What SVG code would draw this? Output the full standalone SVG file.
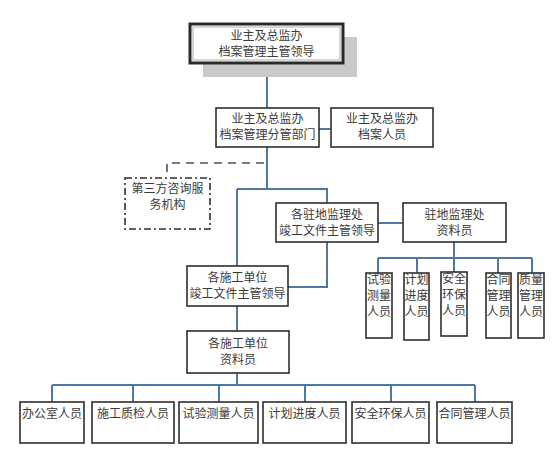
<svg xmlns="http://www.w3.org/2000/svg" width="560" height="462" viewBox="0 0 560 462">
<style>
.bx{fill:#fff;stroke:#2e2e2e;stroke-width:1.6}
.t{font-family:"Noto Sans CJK SC","Noto Sans CJK JP",sans-serif;font-size:12px;fill:#3a3a3a;text-anchor:middle}
.c{fill:none;stroke:#4f78a3;stroke-width:2}
.d{fill:none;stroke:#44536a;stroke-width:1.6;stroke-dasharray:8 6}
.dd{fill:none;stroke:#2e2e2e;stroke-width:1.6;stroke-dasharray:7 3 2 3}
</style>
<rect width="560" height="462" fill="#fff"/>
<g id="connectors">
<path class="c" d="M267 63V108M319 129H331M267 147V189M237 189H327V203M237 189V266M378 223H403M327 242V287H288M237 306V331M237 373V385M52 385H475M52 385V402M133 385V402M219 385V402M305 385V402M391 385V402M475 385V402M454 242V258M378 258H532M378 258V273M417 258V273M454 258V272M498 258V273M532 258V273"/>
<path class="d" d="M264 163H167V178"/>
</g>
<g id="n-top">
<rect x="203" y="37" width="154" height="40" fill="#c9c9c9"/>
<rect x="190" y="24" width="153" height="39" fill="#fff" stroke="#2a2a2a" stroke-width="3"/>
<rect x="193" y="27" width="147" height="33" fill="none" stroke="#999" stroke-width="0.8"/>
<text class="t" x="266.5" y="40">业主及总监办</text>
<text class="t" x="266.5" y="56">档案管理主管领导</text>
</g>
<g id="n-dept">
<rect class="bx" x="216" y="108" width="103" height="39"/>
<text class="t" x="267.5" y="123">业主及总监办</text>
<text class="t" x="267.5" y="139">档案管理分管部门</text>
</g>
<g id="n-archive">
<rect class="bx" x="331" y="108" width="102" height="39"/>
<text class="t" x="382" y="123">业主及总监办</text>
<text class="t" x="382" y="139">档案人员</text>
</g>
<g id="n-third">
<rect class="dd" x="125" y="178" width="85" height="51"/>
<text class="t" x="167.5" y="193">第三方咨询服</text>
<text class="t" x="167.5" y="209">务机构</text>
</g>
<g id="n-site-lead">
<rect class="bx" x="276" y="203" width="102" height="39"/>
<text class="t" x="327" y="219">各驻地监理处</text>
<text class="t" x="327" y="235">竣工文件主管领导</text>
</g>
<g id="n-site-clerk">
<rect class="bx" x="403" y="203" width="103" height="39"/>
<text class="t" x="454.5" y="219">驻地监理处</text>
<text class="t" x="454.5" y="235">资料员</text>
</g>
<g id="n-con-lead">
<rect class="bx" x="187" y="266" width="101" height="40"/>
<text class="t" x="237.5" y="282">各施工单位</text>
<text class="t" x="237.5" y="298">竣工文件主管领导</text>
</g>
<g id="n-con-clerk">
<rect class="bx" x="187" y="331" width="102" height="42"/>
<text class="t" x="238" y="348">各施工单位</text>
<text class="t" x="238" y="364">资料员</text>
</g>
<g id="n-s1"><rect class="bx" x="366" y="273" width="26" height="65"/><text class="t" x="379" y="284">试验</text><text class="t" x="379" y="300">测量</text><text class="t" x="379" y="316">人员</text></g>
<g id="n-s2"><rect class="bx" x="404" y="273" width="25" height="67"/><text class="t" x="416.5" y="284">计划</text><text class="t" x="416.5" y="300">进度</text><text class="t" x="416.5" y="316">人员</text></g>
<g id="n-s3"><rect class="bx" x="441" y="272" width="26" height="64"/><text class="t" x="454" y="283">安全</text><text class="t" x="454" y="299">环保</text><text class="t" x="454" y="315">人员</text></g>
<g id="n-s4"><rect class="bx" x="486" y="273" width="25" height="65"/><text class="t" x="498.5" y="284">合同</text><text class="t" x="498.5" y="300">管理</text><text class="t" x="498.5" y="316">人员</text></g>
<g id="n-s5"><rect class="bx" x="518" y="273" width="26" height="65"/><text class="t" x="531" y="284">质量</text><text class="t" x="531" y="300">管理</text><text class="t" x="531" y="316">人员</text></g>
<g id="n-b1"><rect class="bx" x="20" y="402" width="64" height="41"/><text class="t" x="52" y="418">办公室人员</text></g>
<g id="n-b2"><rect class="bx" x="92" y="402" width="82" height="41"/><text class="t" x="133" y="418">施工质检人员</text></g>
<g id="n-b3"><rect class="bx" x="179" y="402" width="79" height="41"/><text class="t" x="218.5" y="418">试验测量人员</text></g>
<g id="n-b4"><rect class="bx" x="263" y="402" width="83" height="41"/><text class="t" x="304.5" y="418">计划进度人员</text></g>
<g id="n-b5"><rect class="bx" x="352" y="402" width="77" height="41"/><text class="t" x="390.5" y="418">安全环保人员</text></g>
<g id="n-b6"><rect class="bx" x="437" y="402" width="75" height="41"/><text class="t" x="474.5" y="418">合同管理人员</text></g>
</svg>
